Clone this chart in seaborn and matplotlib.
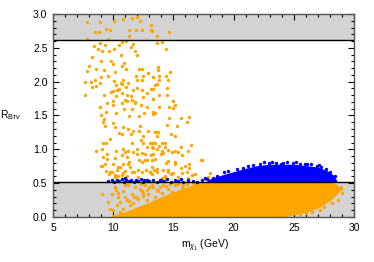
import numpy as np
import matplotlib
matplotlib.use("Agg")
import matplotlib.pyplot as plt
import seaborn as sns
from matplotlib.ticker import MultipleLocator, FormatStrFormatter

# allowed / excluded bands of R_Btaunu
R_LOW = 0.51
R_HIGH = 2.62

# scattered orange points
orange_x = [7.85, 8.90, 10.09, 10.84, 11.59, 12.00, 12.23, 13.11, 13.14, 12.39, 11.89, 11.31, 9.73, 9.40, 8.85, 8.51,
            11.31, 7.85, 9.54, 10.76, 11.04, 11.62, 10.51, 8.93, 8.40, 9.32, 8.76, 9.04, 10.04, 9.62, 11.48, 11.81,
            12.00, 8.21, 10.67, 9.01, 9.84, 10.01, 10.87, 10.76, 8.02, 8.57, 9.21, 10.18, 11.09, 12.14, 12.36, 7.79,
            11.89, 12.50, 12.86, 13.31, 8.99, 9.54, 8.49, 8.15, 7.66, 8.90, 10.09, 10.79, 11.23, 12.00, 12.42, 10.20,
            10.62, 10.76, 8.21, 8.57, 10.51, 11.09, 11.62, 11.98, 12.39, 13.11, 9.98, 10.29, 7.66, 9.23, 9.82, 10.26,
            10.73, 11.15, 11.45, 12.78, 13.31, 9.46, 10.01, 10.95, 11.59, 12.48, 11.81,
            13.14, 13.20, 13.67, 14.67, 13.61, 14.03, 14.39, 13.72, 13.70, 14.72, 13.28, 13.81, 14.36, 14.58, 13.84,
            13.48, 13.67, 13.31, 14.44, 13.78, 14.44, 13.28, 15.00,
            8.90, 10.01, 10.70, 11.15, 11.81, 12.31, 12.78, 9.37, 10.23, 10.92, 11.59, 12.59, 13.28, 8.96, 9.23, 11.28,
            12.17, 9.12, 9.95, 9.32, 10.15, 10.84, 12.23, 11.26, 11.64, 12.17, 12.86, 13.47, 10.48, 10.70, 11.48, 12.45,
            12.28, 9.73, 9.40, 9.12, 11.53, 12.50, 13.06, 13.33, 12.78, 13.33, 10.84, 11.01, 11.26, 11.67, 12.00, 12.36,
            8.54, 9.04, 10.20, 11.95, 12.64, 13.11, 9.46, 9.18, 10.76, 11.12, 10.15, 12.17, 12.39, 12.78, 13.20, 11.31,
            9.95, 9.32, 10.56, 10.84, 11.40, 10.34, 8.96, 9.40, 9.87, 10.79, 10.98, 11.73, 12.09, 12.36, 12.73, 13.06,
            13.39, 10.43, 11.12, 10.15, 9.65, 10.70,
            14.94, 15.14, 13.84, 14.67, 15.00, 13.34, 13.48, 14.64, 15.61, 16.33, 16.11, 14.44, 15.33, 13.75, 13.48,
            14.78, 15.14, 13.61, 13.20, 13.48, 14.03, 14.31, 13.84, 13.20, 14.31, 15.61, 16.47, 13.61, 14.03, 14.58,
            14.86, 15.14, 15.41, 16.25, 15.69, 14.17, 13.34, 13.97, 13.48, 14.53, 14.39, 15.14, 17.27, 16.30, 16.33,
            15.64, 13.20, 14.11, 14.53, 15.00, 15.69, 16.11, 13.06, 13.61, 17.63, 18.05, 14.31, 14.78, 16.52,
            9.46, 9.04, 9.74, 10.43, 11.26, 11.54, 12.65, 13.20, 13.61, 14.31, 14.58, 15.14, 15.97, 16.80, 17.35,
            17.90, 15.41, 12.09, 10.15, 10.98, 14.03, 16.25,
            9.88, 10.15, 10.43, 10.84, 10.29, 10.57, 11.26, 11.12, 11.54, 11.81, 12.09, 12.37, 12.65, 12.92, 13.34,
            13.75, 14.17, 14.58, 15.14, 15.69, 11.68, 12.78, 9.74, 10.01, 10.84, 9.04, 13.48, 14.03, 14.86, 15.97,
            9.60, 9.95, 10.20, 10.60, 10.95, 11.40, 11.90, 12.20, 12.50, 13.00, 13.60, 14.40, 15.40, 16.10, 16.60,
            10.40, 11.00, 11.30, 12.30, 12.80, 13.20, 13.90, 14.70, 15.80, 16.80, 17.40, 11.70, 12.50,
            28.90, 29.00, 28.70, 27.50, 26.50, 25.50, 27.20, 28.20, 28.95, 26.00]
orange_y = [2.88, 2.88, 2.89, 2.92, 2.94, 2.95, 2.89, 2.84, 2.76, 2.76, 2.76, 2.77, 2.76, 2.78, 2.74, 2.73,
            2.68, 2.63, 2.63, 2.59, 2.60, 2.56, 2.54, 2.57, 2.53, 2.54, 2.49, 2.45, 2.49, 2.46, 2.51, 2.46,
            2.40, 2.37, 2.39, 2.31, 2.30, 2.26, 2.28, 2.23, 2.23, 2.18, 2.17, 2.15, 2.18, 2.19, 2.18, 2.16,
            2.09, 2.09, 2.13, 2.07, 2.07, 2.08, 2.02, 1.99, 2.00, 1.98, 2.01, 2.03, 1.98, 2.03, 2.03, 1.95,
            1.98, 1.97, 1.92, 1.93, 1.89, 1.92, 1.87, 1.91, 1.87, 1.89, 1.86, 1.87, 1.81, 1.80, 1.84, 1.79,
            1.83, 1.80, 1.79, 1.83, 1.75, 1.69, 1.71, 1.73, 1.73, 1.77, 1.70,
            2.84, 2.75, 2.67, 2.73, 2.57, 2.59, 2.49, 2.21, 2.17, 2.15, 2.07, 2.08, 2.09, 2.03, 2.03,
            1.95, 1.97, 1.89, 1.90, 1.81, 1.81, 1.75, 1.71,
            1.62, 1.66, 1.68, 1.71, 1.68, 1.66, 1.63, 1.55, 1.54, 1.60, 1.59, 1.53, 1.52, 1.50, 1.45, 1.49,
            1.49, 1.41, 1.39, 1.34, 1.33, 1.33, 1.34, 1.30, 1.27, 1.27, 1.27, 1.26, 1.24, 1.22, 1.22, 1.19,
            1.14, 1.15, 1.10, 1.10, 1.09, 1.09, 1.09, 1.10, 1.04, 1.02, 1.00, 0.96, 0.97, 0.96, 1.00, 0.95,
            0.97, 1.00, 0.98, 0.93, 0.93, 0.92, 0.93, 0.88, 0.91, 0.88, 0.87, 0.84, 0.81, 0.84, 0.84, 0.82,
            0.78, 0.79, 0.74, 0.78, 0.74, 0.69, 0.76, 0.68, 0.67, 0.65, 0.68, 0.67, 0.69, 0.67, 0.69, 0.67,
            0.69, 0.61, 0.60, 0.62, 0.64, 0.62,
            1.71, 1.65, 1.62, 1.63, 1.61, 1.55, 1.53, 1.46, 1.46, 1.48, 1.41, 1.36, 1.34, 1.26, 1.25,
            1.22, 1.20, 1.19, 1.10, 1.10, 1.09, 1.10, 1.05, 1.04, 1.03, 1.04, 1.07, 1.00, 0.98, 0.99,
            0.96, 0.98, 0.96, 0.97, 0.92, 0.94, 0.93, 0.93, 0.85, 0.83, 0.80, 0.82, 0.84, 0.78, 0.72,
            0.73, 0.74, 0.69, 0.67, 0.65, 0.65, 0.67, 0.67, 0.67, 0.56, 0.65, 0.60, 0.63, 0.62,
            0.86, 0.76, 0.66, 0.74, 0.79, 0.66, 0.84, 0.64, 0.71, 0.59, 0.69, 0.79, 0.76, 0.64, 0.84,
            0.59, 0.59, 0.59, 0.59, 0.57, 0.57, 0.57,
            0.345, 0.44, 0.30, 0.39, 0.17, 0.07, 0.47, 0.25, 0.34, 0.44, 0.27, 0.39, 0.47, 0.345, 0.44,
            0.39, 0.47, 0.42, 0.47, 0.44, 0.20, 0.25, 0.12, 0.02, 0.12, 0.345, 0.30, 0.355, 0.37, 0.39,
            0.22, 0.10, 0.40, 0.22, 0.30, 0.18, 0.30, 0.42, 0.36, 0.45, 0.40, 0.46, 0.49, 0.49, 0.50,
            0.36, 0.47, 0.23, 0.49, 0.40, 0.48, 0.45, 0.49, 0.48, 0.50, 0.51, 0.29, 0.31,
            0.45, 0.35, 0.25, 0.15, 0.08, 0.04, 0.10, 0.20, 0.42, 0.06]

# dense orange core: envelope of the solid cloud
orange_core_x = [10.0, 11.0, 12.0, 13.0, 14.0, 15.0, 16.0, 17.0, 18.0, 24.0, 25.0, 26.0, 27.0, 28.0, 28.5, 28.8]
orange_core_lo = [0.0, 0.0, 0.0, 0.0, 0.0, 0.0, 0.0, 0.0, 0.0, 0.0, 0.03, 0.07, 0.13, 0.24, 0.32, 0.38]
orange_core_hi = [0.03, 0.08, 0.15, 0.22, 0.30, 0.37, 0.44, 0.50, 0.51, 0.51, 0.51, 0.51, 0.51, 0.51, 0.49, 0.44]

# scattered blue points along the lower cut and the blob's rim
blue_x = [9.6, 9.9, 10.1, 10.3, 10.5, 10.7, 10.9, 11.1, 11.3, 11.5, 11.7, 11.9, 12.1, 12.3, 12.5, 12.8, 13.0,
          13.3, 13.6, 13.9, 14.2, 14.5, 14.8, 15.1, 15.4, 15.8, 16.2, 16.6, 17.0, 17.4, 17.8, 11.0, 12.6,
          14.0, 15.6, 18.3, 18.6, 19.2, 20.3, 21.6, 22.5, 23.5, 24.4, 25.5, 26.4, 27.3, 28.0, 28.4,
          17.6, 19.5, 20.8, 21.2, 22.9, 23.9, 24.9, 25.9, 26.9, 27.7, 22.2, 23.2, 24.1, 25.2, 26.1, 27.1]
blue_y = [0.53, 0.55, 0.52, 0.54, 0.53, 0.56, 0.52, 0.54, 0.53, 0.55, 0.52, 0.54, 0.53, 0.56, 0.52, 0.54, 0.53,
          0.55, 0.52, 0.54, 0.53, 0.56, 0.52, 0.54, 0.53, 0.52, 0.54, 0.53, 0.52, 0.55, 0.56, 0.57, 0.55,
          0.55, 0.56, 0.58, 0.60, 0.66, 0.71, 0.77, 0.81, 0.80, 0.81, 0.79, 0.79, 0.74, 0.67, 0.60,
          0.58, 0.68, 0.73, 0.75, 0.80, 0.79, 0.80, 0.78, 0.76, 0.71, 0.79, 0.81, 0.80, 0.81, 0.78, 0.77]

# dense blue core: envelope of the solid cloud
blue_core_x = [17.8, 19.0, 20.0, 21.0, 22.0, 23.0, 24.0, 25.0, 26.0, 27.0, 27.8, 28.3, 28.6]
blue_core_hi = [0.55, 0.62, 0.67, 0.72, 0.76, 0.78, 0.78, 0.78, 0.76, 0.74, 0.68, 0.62, 0.53]

ORANGE = "#FFA500"
BLUE = "#0000FF"
GREY = "#D3D3D3"

sns.set_theme(style="ticks")
plt.rcParams["font.family"] = ["Liberation Sans", "DejaVu Sans"]
plt.rcParams["mathtext.fontset"] = "custom"
plt.rcParams["mathtext.rm"] = "Liberation Sans"
plt.rcParams["mathtext.it"] = "Liberation Sans:italic"

fig = plt.figure(figsize=(3.74, 2.62), dpi=100)
ax = fig.add_axes([0.1417, 0.1718, 0.8048, 0.7748])

ax.axhspan(0, R_LOW, color=GREY, zorder=0, lw=0)
ax.axhspan(R_HIGH, 3.0, color=GREY, zorder=0, lw=0)

ax.fill_between(orange_core_x, orange_core_lo, orange_core_hi, color=ORANGE, lw=0, zorder=2)
sns.scatterplot(x=orange_x, y=orange_y, color=ORANGE, s=6, marker="o", linewidth=0, ax=ax, zorder=2)

ax.fill_between(blue_core_x, R_LOW, blue_core_hi, color=BLUE, lw=0, zorder=2.5)
sns.scatterplot(x=blue_x, y=blue_y, color=BLUE, s=6, marker="o", linewidth=0, ax=ax, zorder=2.5)

ax.axhline(R_LOW, color="black", lw=1, zorder=3)
ax.axhline(R_HIGH, color="black", lw=1, zorder=3)

ax.set_xlim(5, 30)
ax.set_ylim(0, 3)
ax.xaxis.set_major_locator(MultipleLocator(5))
ax.xaxis.set_minor_locator(MultipleLocator(1))
ax.yaxis.set_major_locator(MultipleLocator(0.5))
ax.yaxis.set_minor_locator(MultipleLocator(0.1))
ax.yaxis.set_major_formatter(FormatStrFormatter("%.1f"))
ax.tick_params(which="both", direction="in", top=True, right=True, labelsize=7.5, colors="black", width=0.8)
ax.tick_params(which="major", length=4, pad=4)
ax.tick_params(which="minor", length=2)
for sp in ax.spines.values():
    sp.set_color("#555555")
    sp.set_linewidth(1.0)
    sp.set_zorder(4)

ax.set_xlabel(r"$\mathrm{m}_{\chi_1}$ (GeV)", fontsize=7.5, color="black")
ax.set_ylabel(r"$\mathrm{R}_{\mathrm{B}\tau\nu}$", fontsize=7.5, rotation=0, color="black")
ax.yaxis.set_label_coords(-0.14, 0.47)
ax.xaxis.set_label_coords(0.505, -0.1)

fig.savefig("out.png", dpi=100)
